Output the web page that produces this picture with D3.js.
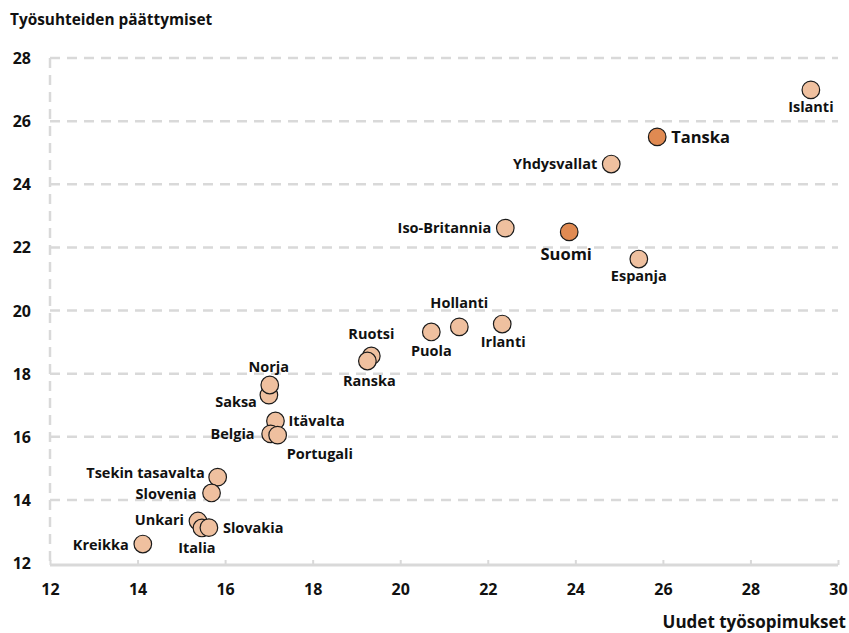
<!DOCTYPE html>
<html>
<head>
<meta charset="utf-8">
<script src="https://cdn.jsdelivr.net/npm/d3@7"></script>
<style>
  html, body { margin: 0; padding: 0; background: #fff; }
  svg { display: block; font-family: "Open Sans", sans-serif; font-weight: 700; }
</style>
</head>
<body>
<svg id="chart" width="849" height="633"></svg>
<script>
// ---- Data ----
const countries = ["Islanti","Tanska","Yhdysvallat","Iso-Britannia","Suomi","Espanja",
  "Hollanti","Puola","Irlanti","Ruotsi","Ranska","Saksa","Norja","Itävalta","Belgia",
  "Portugali","Tsekin tasavalta","Slovenia","Unkari","Italia","Slovakia","Kreikka"];
const newContracts = [29.38,25.87,24.82,22.40,23.86,25.45,
  21.35,20.71,22.33,19.34,19.25,17.00,17.02,17.15,17.04,
  17.20,15.83,15.69,15.38,15.47,15.63,14.12];
const terminations = [26.99,25.50,24.64,22.61,22.49,21.63,
  19.48,19.32,19.57,18.56,18.40,17.32,17.64,16.50,16.09,
  16.05,14.72,14.22,13.33,13.11,13.12,12.60];
const highlighted = ["Suomi","Tanska"];
const xTicks = [12,14,16,18,20,22,24,26,28,30];
const yTicks = [12,14,16,18,20,22,24,26,28];
const yTitle = "Työsuhteiden päättymiset";
const xTitle = "Uudet työsopimukset";

// label placement (style, not data): anchor + offset in px
const labelPlace = {
  "Islanti": ["middle", 0, 22],
  "Tanska": ["start", 14, 6],
  "Yhdysvallat": ["end", -14, 5],
  "Iso-Britannia": ["end", -14, 5],
  "Suomi": ["middle", -3, 28],
  "Espanja": ["middle", 0, 22],
  "Hollanti": ["middle", 0, -19],
  "Puola": ["middle", 0, 24],
  "Irlanti": ["middle", 1, 23],
  "Ruotsi": ["middle", 0, -17],
  "Ranska": ["middle", 2, 25],
  "Saksa": ["end", -12, 12],
  "Norja": ["middle", -1, -13],
  "Itävalta": ["start", 13, 5],
  "Belgia": ["end", -16, 5],
  "Portugali": ["start", 9, 24],
  "Tsekin tasavalta": ["end", -13, 1],
  "Slovenia": ["end", -15, 6],
  "Unkari": ["end", -14, 4],
  "Italia": ["middle", -5, 25],
  "Slovakia": ["start", 14, 5],
  "Kreikka": ["end", -14, 6]
};

const data = countries.map((c, i) => ({name: c, x: newContracts[i], y: terminations[i]}));

// ---- Chart ----
const svg = d3.select("#chart");
const x = d3.scaleLinear().domain([12, 30]).range([50, 838]);
const y = d3.scaleLinear().domain([12, 28]).range([563, 58]);
const gridColor = "#d9d9d9";
const FONT = "'Open Sans', sans-serif";

// horizontal dashed gridlines
svg.append("g").selectAll("line").data(yTicks.filter(t => t > 12)).join("line")
  .attr("x1", x(12)).attr("x2", x(30))
  .attr("y1", d => y(d)).attr("y2", d => y(d))
  .attr("stroke", gridColor).attr("stroke-width", 2.5)
  .attr("stroke-dasharray", "10,7");

// left dashed axis
svg.append("line")
  .attr("x1", x(12)).attr("x2", x(12))
  .attr("y1", y(28)).attr("y2", y(12) + 2)
  .attr("stroke", gridColor).attr("stroke-width", 2.5)
  .attr("stroke-dasharray", "10,7");

// bottom axis via d3.axisBottom with inner ticks pointing up
const xAxis = d3.axisBottom(x).tickValues(xTicks).tickSize(-5).tickPadding(0).tickFormat(d3.format("d"));
const gx = svg.append("g").attr("transform", `translate(0,${y(12) + 2})`).call(xAxis);
gx.select(".domain").attr("stroke", gridColor).attr("stroke-width", 3).attr("d", `M${x(12)},0H${x(30)}`);
gx.selectAll(".tick line").attr("stroke", gridColor).attr("stroke-width", 2);
gx.selectAll(".tick text").attr("y", 30).attr("dy", 0)
  .attr("font-size", 16).attr("font-family", FONT).attr("font-weight", 700).attr("fill", "#111");

// y tick labels via d3.axisLeft
const yAxis = d3.axisLeft(y).tickValues(yTicks).tickSize(0).tickPadding(0).tickFormat(d3.format("d"));
const gy = svg.append("g").attr("transform", `translate(31,0)`).call(yAxis);
gy.select(".domain").remove();
gy.selectAll(".tick text").attr("font-size", 16).attr("font-family", FONT)
  .attr("font-weight", 700).attr("fill", "#111").attr("dy", "0.35em");

// titles
svg.append("text").attr("x", 10).attr("y", 25).attr("font-size", 15.4).attr("fill", "#111").text(yTitle);
svg.append("text").attr("x", 846).attr("y", 628).attr("text-anchor", "end")
  .attr("font-size", 17).attr("fill", "#111").text(xTitle);

// points
svg.append("g").selectAll("circle").data(data).join("circle")
  .attr("cx", d => x(d.x)).attr("cy", d => y(d.y)).attr("r", 8.8)
  .attr("fill", d => highlighted.includes(d.name) ? "#e08a52" : "#efc09f")
  .attr("stroke", "#1a1a1a").attr("stroke-width", 1.2);

// labels
svg.append("g").selectAll("text").data(data).join("text")
  .attr("x", d => x(d.x) + labelPlace[d.name][1])
  .attr("y", d => y(d.y) + labelPlace[d.name][2])
  .attr("text-anchor", d => labelPlace[d.name][0])
  .attr("font-size", d => highlighted.includes(d.name) ? 16.5 : 14.5)
  .attr("fill", "#111")
  .text(d => d.name);
</script>
</body>
</html>
